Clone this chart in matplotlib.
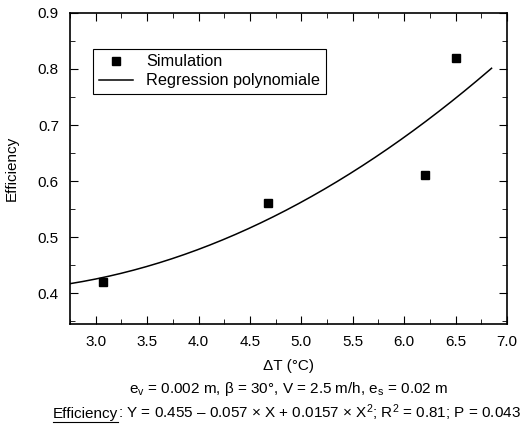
import numpy as np
import matplotlib
matplotlib.use("Agg")
import matplotlib.pyplot as plt
from matplotlib.ticker import MultipleLocator
from matplotlib.lines import Line2D

plt.rcParams['font.family'] = ['Liberation Sans', 'DejaVu Sans']
plt.rcParams['mathtext.fontset'] = 'custom'
plt.rcParams['mathtext.rm'] = 'Liberation Sans'
plt.rcParams['mathtext.it'] = 'Liberation Sans:italic'
plt.rcParams['mathtext.bf'] = 'Liberation Sans:bold'

### data
sim_dT = [3.07, 4.68, 6.20, 6.50]
sim_eff = [0.42, 0.56, 0.61, 0.82]
# regression polynomial coefficients (c0, c1, c2) from the caption
reg_coef = [0.455, -0.057, 0.0157]
reg_range = [2.75, 6.85]

FS = 11

fig = plt.figure(figsize=(5.27, 4.30), dpi=100)
ax = fig.add_axes([0.133, 0.2465, 0.829, 0.7235])

X = np.linspace(reg_range[0], reg_range[1], 200)
Y = reg_coef[0] + reg_coef[1]*X + reg_coef[2]*X**2
ax.plot(sim_dT, sim_eff, 's', color='black', markersize=5.5, label="Simulation")
ax.plot(X, Y, '-', color='black', linewidth=1.1, label="Regression polynomiale")

ax.set_xlim(2.75, 7.0)
ax.set_ylim(0.345, 0.9)
ax.xaxis.set_major_locator(MultipleLocator(0.5))
ax.xaxis.set_minor_locator(MultipleLocator(0.25))
ax.yaxis.set_major_locator(MultipleLocator(0.1))
ax.yaxis.set_minor_locator(MultipleLocator(0.05))
ax.tick_params(which='both', direction='in', top=True, right=True, labelsize=FS)
ax.tick_params(which='major', length=6, pad=8)
ax.tick_params(which='minor', length=3.5)
for s in ax.spines.values():
    s.set_linewidth(1.2)

ax.set_xlabel("ΔT (°C)", fontsize=FS, labelpad=7)
ax.set_ylabel("Efficiency", fontsize=FS, labelpad=14)

leg = ax.legend(loc='upper left', bbox_to_anchor=(0.053, 0.885), fontsize=11.7,
                fancybox=False, edgecolor='black', framealpha=1, borderaxespad=0,
                handlelength=2.1, borderpad=0.35, labelspacing=0.25, handletextpad=0.8)
leg.get_frame().set_linewidth(0.8)

fig.text(0.547, 0.095, r"e$_\mathrm{v}$ = 0.002 m, β = 30°, V = 2.5 m/h, e$_\mathrm{s}$ = 0.02 m",
         ha='center', va='center', fontsize=FS)

### underlined caption: two pieces, centred together
t1 = fig.text(0, 0.027, "Efficiency", ha='left', va='baseline', fontsize=FS)
t2 = fig.text(0, 0.027, r": Y = 0.455 – 0.057 × X + 0.0157 × X$^2$; R$^2$ = 0.81; P = 0.043",
              ha='left', va='baseline', fontsize=FS)
r = fig.canvas.get_renderer()
w1 = t1.get_window_extent(r).width / fig.bbox.width
w2 = t2.get_window_extent(r).width / fig.bbox.width
x0 = 0.545 - (w1 + w2) / 2
t1.set_x(x0)
t2.set_x(x0 + w1)
fig.add_artist(Line2D([x0, x0 + w1], [0.019, 0.019], color='black', linewidth=0.8,
                      transform=fig.transFigure))

fig.savefig("out.png", dpi=100)
